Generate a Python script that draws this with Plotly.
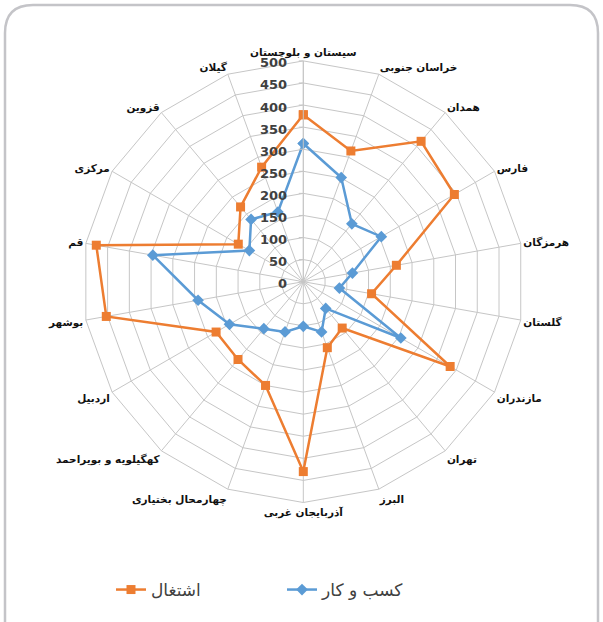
import plotly.graph_objects as go

categories = ["سیستان و بلوچستان", "خراسان جنوبی", "همدان", "فارس", "هرمزگان", "گلستان",
              "مازندران", "تهران", "البرز", "آذربایجان غربی", "چهارمحال بختیاری",
              "کهگیلویه و بویراحمد", "اردبیل", "بوشهر", "قم", "مرکزی", "قزوین", "گیلان"]
ishtighal = [378, 315, 415, 395, 214, 157, 384, 137, 159, 430, 250, 230, 228, 453, 476, 170, 221, 276]
kasbokar = [313, 251, 171, 204, 113, 83, 255, 79, 121, 101, 121, 139, 193, 242, 346, 141, 184, 168]
series_names = ["اشتغال", "کسب و کار"]
radial_ticks = [0, 50, 100, 150, 200, 250, 300, 350, 400, 450, 500]

W, H = 603, 622
cx, cy, R = 303.3, 281.7, 220.8

fig = go.Figure()
fig.add_trace(go.Scatterpolar(
    r=ishtighal + ishtighal[:1], theta=categories + categories[:1], name=series_names[0],
    mode="lines+markers", line=dict(color="#ED7D31", width=2.5),
    marker=dict(symbol="square", size=9, color="#ED7D31")))
fig.add_trace(go.Scatterpolar(
    r=kasbokar + kasbokar[:1], theta=categories + categories[:1], name=series_names[1],
    mode="lines+markers", line=dict(color="#5B9BD5", width=2.5),
    marker=dict(symbol="diamond", size=9, color="#5B9BD5")))

grid = "#c6c6c6"
fig.update_layout(
    width=W, height=H, margin=dict(l=0, r=0, t=0, b=0),
    paper_bgcolor="white", plot_bgcolor="white",
    font=dict(family="DejaVu Sans", color="#1a1a1a"),
    polar=dict(
        domain=dict(x=[(cx - R) / W, (cx + R) / W], y=[1 - (cy + R) / H, 1 - (cy - R) / H]),
        bgcolor="white", gridshape="linear",
        angularaxis=dict(type="category", rotation=90, direction="clockwise",
                         categoryorder="array", categoryarray=categories,
                         showline=True, linecolor=grid, linewidth=1,
                         gridcolor=grid, gridwidth=1, ticks="",
                         tickfont=dict(family="DejaVu Sans", size=10.5, color="#111111", weight="bold")),
        radialaxis=dict(range=[0, 500], tickvals=radial_ticks, angle=90, side="counterclockwise",
                        showline=True, linecolor=grid, gridcolor=grid, gridwidth=1,
                        ticks="outside", ticklen=4, tickcolor=grid,
                        tickfont=dict(family="DejaVu Sans", size=13, color="#404040", weight="bold")),
    ),
    legend=dict(orientation="h", x=111 / W, xanchor="left", y=1 - 590 / H, yanchor="middle",
                font=dict(family="DejaVu Sans", size=17, color="#404040"),
                entrywidth=126, entrywidthmode="pixels", bgcolor="rgba(0,0,0,0)"),
    showlegend=True,
    shapes=[dict(type="path", xref="paper", yref="paper",
                 path=f"M {5/W} {1-640/H} L {5/W} {1-33/H} Q {5/W} {1-5/H} {33/W} {1-5/H} "
                      f"L {570/W} {1-5/H} Q {598/W} {1-5/H} {598/W} {1-33/H} L {598/W} {1-640/H}",
                 line=dict(color="#c4c4c8", width=2.5), layer="below")],
)

fig.write_html("out.html", config={"displayModeBar": False},
               post_script="document.body.style.margin='0px';")
